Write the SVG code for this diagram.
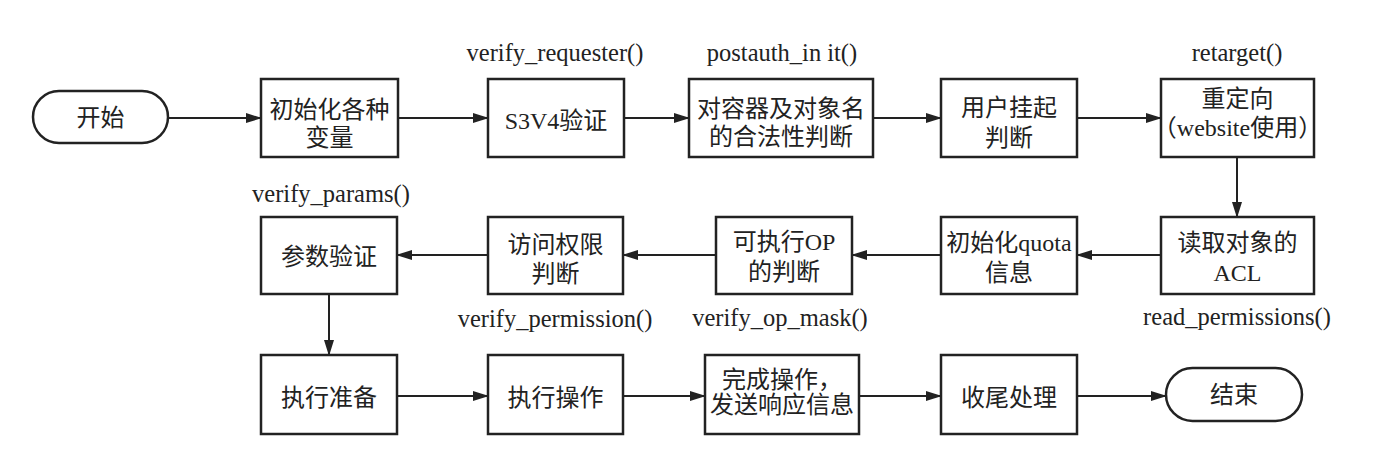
<svg xmlns="http://www.w3.org/2000/svg" width="1400" height="455" viewBox="0 0 1400 455">
<style>
.box{fill:#fff;stroke:#222;stroke-width:2.5}
.t{font-family:"Liberation Serif","Noto Sans CJK SC",serif;font-size:24px;fill:#222;text-anchor:middle}
.lbl{font-family:"Liberation Serif","Noto Sans CJK SC",serif;font-size:24.5px;fill:#222;text-anchor:middle}
.c{fill:none;stroke:#222;stroke-width:2;marker-end:url(#ah)}
</style>
<defs>
<marker id="ah" markerWidth="16" markerHeight="10" refX="15" refY="5" orient="auto" markerUnits="userSpaceOnUse">
<path d="M0,0 L16,5 L0,10 Z" fill="#222"/>
</marker>
</defs>
<rect width="1400" height="455" fill="#fff"/>
<g id="connectors">
<line class="c" x1="168" y1="118" x2="261" y2="118"/>
<line class="c" x1="398" y1="118" x2="488" y2="118"/>
<line class="c" x1="624" y1="118" x2="689" y2="118"/>
<line class="c" x1="873" y1="118" x2="941" y2="118"/>
<line class="c" x1="1077" y1="118" x2="1161" y2="118"/>
<line class="c" x1="1237" y1="157" x2="1237" y2="217"/>
<line class="c" x1="1161" y1="255" x2="1077" y2="255"/>
<line class="c" x1="941" y1="255" x2="852" y2="255"/>
<line class="c" x1="716" y1="255" x2="623" y2="255"/>
<line class="c" x1="488" y1="255" x2="397" y2="255"/>
<line class="c" x1="329" y1="294" x2="329" y2="355"/>
<line class="c" x1="397" y1="396" x2="488" y2="396"/>
<line class="c" x1="623" y1="396" x2="705" y2="396"/>
<line class="c" x1="859" y1="396" x2="941" y2="396"/>
<line class="c" x1="1077" y1="396" x2="1166" y2="396"/>
</g>
<g id="start"><rect class="box" x="33" y="91" width="135" height="52" rx="26"/><text class="t" x="100.5" y="126">开始</text></g>
<g id="init"><rect class="box" x="261" y="79" width="137" height="78"/><text class="t" x="329.5" y="118">初始化各种</text><text class="t" x="329.5" y="146">变量</text></g>
<g id="s3v4"><text class="lbl" x="555" y="61">verify_requester()</text><rect class="box" x="488" y="79" width="136" height="78"/><text class="t" x="556" y="129">S3V4验证</text></g>
<g id="legal"><text class="lbl" x="782" y="61">postauth_in it()</text><rect class="box" x="689" y="79" width="184" height="78"/><text class="t" x="781" y="117">对容器及对象名</text><text class="t" x="781" y="145">的合法性判断</text></g>
<g id="suspend"><rect class="box" x="941" y="79" width="136" height="78"/><text class="t" x="1009" y="116">用户挂起</text><text class="t" x="1009" y="146">判断</text></g>
<g id="retarget"><text class="lbl" x="1237" y="61">retarget()</text><rect class="box" x="1161" y="79" width="153" height="78"/><text class="t" x="1237.5" y="107">重定向</text><text class="t" x="1237.5" y="136">（website使用）</text></g>
<g id="acl"><rect class="box" x="1161" y="217" width="153" height="77"/><text class="t" x="1237.5" y="251">读取对象的</text><text class="t" x="1237.5" y="281">ACL</text><text class="lbl" x="1237" y="325">read_permissions()</text></g>
<g id="quota"><rect class="box" x="941" y="217" width="136" height="77"/><text class="t" x="1009" y="251">初始化quota</text><text class="t" x="1009" y="281">信息</text></g>
<g id="opmask"><rect class="box" x="716" y="217" width="136" height="77"/><text class="t" x="784" y="250">可执行OP</text><text class="t" x="784" y="280">的判断</text><text class="lbl" x="780" y="326">verify_op_mask()</text></g>
<g id="perm"><rect class="box" x="488" y="217" width="135" height="77"/><text class="t" x="555.5" y="253">访问权限</text><text class="t" x="555.5" y="282">判断</text><text class="lbl" x="555" y="327">verify_permission()</text></g>
<g id="params"><text class="lbl" x="331" y="202">verify_params()</text><rect class="box" x="261" y="217" width="136" height="77"/><text class="t" x="329" y="265">参数验证</text></g>
<g id="prepare"><rect class="box" x="261" y="355" width="136" height="79"/><text class="t" x="329" y="406">执行准备</text></g>
<g id="execute"><rect class="box" x="488" y="355" width="135" height="79"/><text class="t" x="555.5" y="406">执行操作</text></g>
<g id="complete"><rect class="box" x="705" y="355" width="154" height="79"/><text class="t" x="782" y="388">完成操作，</text><text class="t" x="782" y="413">发送响应信息</text></g>
<g id="finish"><rect class="box" x="941" y="355" width="136" height="79"/><text class="t" x="1009" y="406">收尾处理</text></g>
<g id="end"><rect class="box" x="1166" y="368" width="136" height="53" rx="26.5"/><text class="t" x="1234" y="403">结束</text></g>
</svg>
